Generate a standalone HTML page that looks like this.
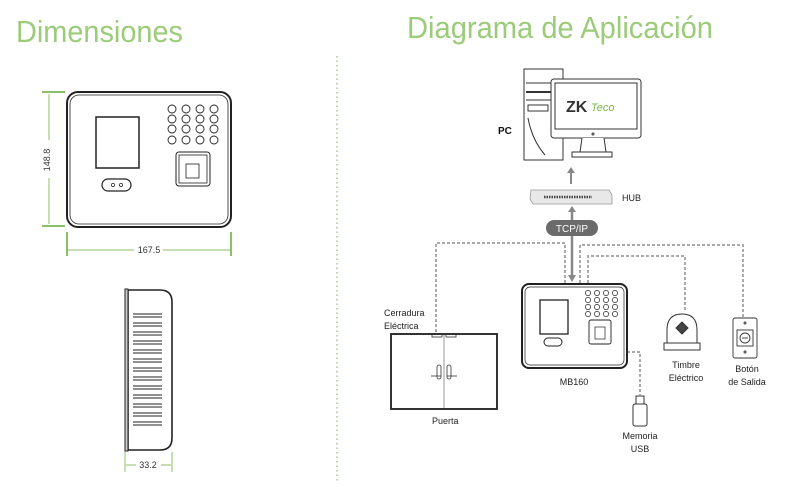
<!DOCTYPE html>
<html><head><meta charset="utf-8"><style>
html,body{margin:0;padding:0;background:#fff;width:800px;height:493px;overflow:hidden}
svg{display:block}
text{font-family:"Liberation Sans",sans-serif}
</style></head><body>
<svg width="800" height="493" viewBox="0 0 800 493" xmlns="http://www.w3.org/2000/svg">
<!-- titles -->
<text x="16" y="42" font-size="31" fill="#9ccb7a" textLength="167" lengthAdjust="spacingAndGlyphs">Dimensiones</text>
<text x="407" y="38" font-size="31" fill="#9ccb7a" textLength="306" lengthAdjust="spacingAndGlyphs">Diagrama de Aplicación</text>
<!-- divider -->
<line x1="337" y1="56" x2="337" y2="482" stroke="#8dbf67" stroke-width="1.2" stroke-dasharray="1.5 3"/>

<!-- front view -->
<g fill="none" stroke="#222">
<rect x="67" y="92" width="164" height="135" rx="11" stroke-width="2"/>
<rect x="70" y="95" width="158" height="129" rx="9" stroke-width="0.8"/>
<rect x="96" y="117" width="43" height="51" stroke-width="1.5"/>
<g stroke-width="0.9">
<circle cx="172" cy="109" r="4"/><circle cx="186" cy="109" r="4"/><circle cx="200" cy="109" r="4"/><circle cx="214" cy="109" r="4"/>
<circle cx="172" cy="119" r="4"/><circle cx="186" cy="119" r="4"/><circle cx="200" cy="119" r="4"/><circle cx="214" cy="119" r="4"/>
<circle cx="172" cy="129" r="4"/><circle cx="186" cy="129" r="4"/><circle cx="200" cy="129" r="4"/><circle cx="214" cy="129" r="4"/>
<circle cx="172" cy="140" r="4"/><circle cx="186" cy="140" r="4"/><circle cx="200" cy="140" r="4"/><circle cx="214" cy="140" r="4"/>
</g>
<rect x="176" y="152" width="34" height="34" rx="3" stroke-width="1"/>
<rect x="179" y="155" width="28" height="28" stroke-width="0.8"/>
<rect x="186" y="164" width="13" height="14" stroke-width="0.8"/>
<rect x="102" y="179" width="29" height="12" rx="6" stroke-width="1.2"/>
<circle cx="113" cy="185" r="1.6" stroke-width="0.7"/><circle cx="121" cy="185" r="1.6" stroke-width="0.7"/>
</g>
<!-- dims -->
<g stroke="#8dbf67" fill="none">
<line x1="42" y1="92" x2="65" y2="92" stroke-width="2"/>
<line x1="42" y1="226" x2="65" y2="226" stroke-width="2"/>
<line x1="49" y1="94" x2="49" y2="140" stroke-width="1"/>
<line x1="49" y1="178" x2="49" y2="224" stroke-width="1"/>
<line x1="67" y1="232" x2="67" y2="256" stroke-width="2"/>
<line x1="231" y1="232" x2="231" y2="256" stroke-width="2"/>
<line x1="68" y1="250" x2="134" y2="250" stroke-width="1"/>
<line x1="163" y1="250" x2="230" y2="250" stroke-width="1"/>
<line x1="125" y1="452" x2="125" y2="472" stroke-width="1"/>
<line x1="172" y1="452" x2="172" y2="472" stroke-width="1"/>
<line x1="126" y1="465" x2="136" y2="465" stroke-width="1"/>
<line x1="161" y1="465" x2="171" y2="465" stroke-width="1"/>
</g>
<text x="47" y="160" font-size="9" fill="#333" text-anchor="middle" transform="rotate(-90 47 160) translate(0 3)">148.8</text>
<text x="149" y="253" font-size="9" fill="#333" text-anchor="middle">167.5</text>
<text x="148" y="468" font-size="9" fill="#333" text-anchor="middle">33.2</text>

<!-- side view -->
<g fill="none" stroke="#222">
<path d="M128 290 H160 Q172 290 172 302 V438 Q172 450 160 450 H128 Z" stroke-width="1.6"/>
<rect x="125" y="289" width="3" height="162" fill="#ccc" stroke-width="1"/>
<g stroke-width="0.9">
<path d="M133 314h29M133 317h29M133 323h29M133 326h29M133 332h29M133 335h29M133 341h29M133 344h29M133 350h29M133 353h29M133 359h29M133 362h29M133 368h29M133 371h29M133 377h29M133 380h29M133 386h29M133 389h29M133 395h29M133 398h29M133 404h29M133 407h29M133 413h29M133 416h29M133 422h29M133 425h29"/>
</g>
</g>

<!-- PC -->
<g fill="#fff" stroke="#333" stroke-width="1">
<path d="M524 69 H563 V160 H524 Z"/>
<line x1="526" y1="83" x2="552" y2="83"/>
<line x1="526" y1="92" x2="552" y2="92" stroke-width="2"/>
<line x1="526" y1="100" x2="552" y2="100"/>
<rect x="528" y="105" width="20" height="6"/>
<path d="M528 118 Q532 140 545 155"/>
<rect x="551" y="79" width="90" height="59" rx="3"/>
<rect x="555" y="83" width="82" height="46"/>
<path d="M582 138 L580 152 H606 L604 138"/>
<rect x="572" y="152" width="40" height="5"/>
<circle cx="593" cy="134" r="1"/>
</g>
<text x="566" y="112" font-size="16" font-weight="bold" fill="#333">ZK</text>
<text x="591" y="111" font-size="11" font-style="italic" fill="#7ab648">Teco</text>
<text x="498" y="134" font-size="10" font-weight="bold" fill="#111">PC</text>
<line x1="571" y1="184" x2="571" y2="172" stroke="#888" stroke-width="2"/>
<path d="M567 173 L571 167 L575 173 Z" fill="#888"/>
<!-- hub -->
<path d="M531 190 H609 L612 195 V204 H533 L530 199 Z" fill="#e8e8e8" stroke="#999" stroke-width="0.8"/>
<line x1="544" y1="197" x2="592" y2="197" stroke="#444" stroke-width="2.5" stroke-dasharray="1.5 1"/>
<text x="622" y="201" font-size="9" fill="#222">HUB</text>
<line x1="572" y1="211" x2="572" y2="276" stroke="#888" stroke-width="2.5"/>
<path d="M568 212 L572 206 L576 212 Z M568 275 L572 282 L576 275 Z" fill="#888"/>
<rect x="546" y="220" width="52" height="16" rx="8" fill="#6b6b6b"/>
<text x="572" y="232" font-size="10" fill="#fff" text-anchor="middle">TCP/IP</text>

<!-- dashed connectors -->
<g fill="none" stroke="#aaa" stroke-width="2" stroke-dasharray="3 2">
<path d="M565 283 V243 H436 V335"/>
<path d="M580 283 V245 H743 V317"/>
<path d="M588 283 V256 H685 V310"/>
<path d="M627 352 H640 V395"/>
</g>

<!-- MB160 -->
<g fill="none" stroke="#222">
<rect x="522" y="284" width="105" height="84" rx="7" stroke-width="2"/>
<rect x="525" y="287" width="99" height="78" rx="5" stroke-width="0.7"/>
<rect x="540" y="300" width="28" height="34" stroke-width="1.3"/>
<g stroke-width="0.7">
<circle cx="588" cy="293" r="2.6"/><circle cx="597" cy="293" r="2.6"/><circle cx="606" cy="293" r="2.6"/><circle cx="615" cy="293" r="2.6"/>
<circle cx="588" cy="300" r="2.6"/><circle cx="597" cy="300" r="2.6"/><circle cx="606" cy="300" r="2.6"/><circle cx="615" cy="300" r="2.6"/>
<circle cx="588" cy="307" r="2.6"/><circle cx="597" cy="307" r="2.6"/><circle cx="606" cy="307" r="2.6"/><circle cx="615" cy="307" r="2.6"/>
<circle cx="588" cy="314" r="2.6"/><circle cx="597" cy="314" r="2.6"/><circle cx="606" cy="314" r="2.6"/><circle cx="615" cy="314" r="2.6"/>
</g>
<rect x="589" y="320" width="22" height="24" rx="2" stroke-width="0.9"/>
<rect x="595" y="327" width="10" height="12" stroke-width="0.7"/>
<rect x="544" y="338" width="18" height="8" rx="4" stroke-width="1"/>
</g>
<text x="574" y="385" font-size="9" fill="#222" text-anchor="middle">MB160</text>

<!-- door -->
<g fill="none" stroke="#333">
<rect x="391" y="334" width="106" height="75" stroke-width="2"/>
<line x1="444" y1="335" x2="444" y2="408" stroke="#999" stroke-width="1"/>
<rect x="432" y="334" width="10" height="3" stroke-width="0.8"/>
<rect x="446" y="334" width="10" height="3" stroke-width="0.8"/>
<rect x="437" y="365" width="4" height="14" rx="2" stroke-width="0.8"/>
<rect x="447" y="365" width="4" height="14" rx="2" stroke-width="0.8"/>
<line x1="431" y1="376" x2="441" y2="376" stroke-width="0.8"/>
<line x1="447" y1="376" x2="457" y2="376" stroke-width="0.8"/>
</g>
<text x="384" y="316" font-size="9" fill="#222">Cerradura</text>
<text x="384" y="329" font-size="9" fill="#222">Eléctrica</text>
<text x="432" y="424" font-size="9" fill="#222">Puerta</text>

<!-- bell -->
<g fill="none" stroke="#333" stroke-width="1">
<path d="M667 343 V330 Q667 314 682 314 Q697 314 697 330 V343"/>
<rect x="664" y="343" width="36" height="7" fill="#fff"/>
<path d="M682 322 L688 328 L682 334 L676 328 Z" fill="#444"/>
</g>
<text x="686" y="368" font-size="9" fill="#222" text-anchor="middle">Timbre</text>
<text x="686" y="381" font-size="9" fill="#222" text-anchor="middle">Eléctrico</text>

<!-- exit button -->
<g fill="none" stroke="#333" stroke-width="0.9">
<rect x="733" y="318" width="24" height="40" rx="2"/>
<rect x="737" y="330" width="16" height="16"/>
<circle cx="745" cy="338" r="5"/>
<line x1="742" y1="338" x2="748" y2="338"/>
<circle cx="745" cy="323" r="1"/>
<circle cx="745" cy="352" r="1"/>
</g>
<text x="747" y="372" font-size="9" fill="#222" text-anchor="middle">Botón</text>
<text x="747" y="385" font-size="9" fill="#222" text-anchor="middle">de Salida</text>

<!-- USB -->
<g fill="none" stroke="#333" stroke-width="1">
<rect x="636" y="396" width="8" height="8"/>
<rect x="633" y="404" width="14" height="22" rx="2"/>
</g>
<text x="640" y="439" font-size="9" fill="#222" text-anchor="middle">Memoria</text>
<text x="640" y="452" font-size="9" fill="#222" text-anchor="middle">USB</text>
</svg>
</body></html>
